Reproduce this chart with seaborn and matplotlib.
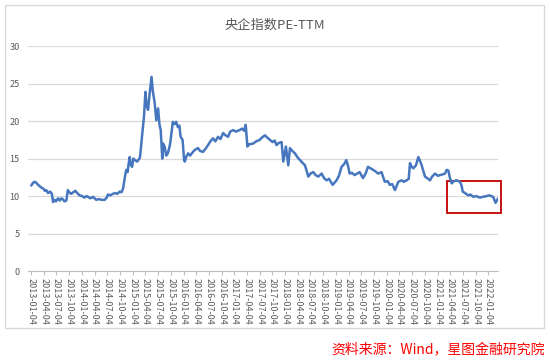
import pandas as pd
import numpy as np
import matplotlib
matplotlib.use("Agg")
import matplotlib.pyplot as plt
import matplotlib.dates as mdates
from matplotlib.patches import Rectangle
import seaborn as sns

# PE-TTM series
dates = ["2013-01-04", "2013-01-14", "2013-01-25", "2013-02-08", "2013-02-22", "2013-03-07",
         "2013-03-20", "2013-04-01", "2013-04-12", "2013-04-22", "2013-05-05", "2013-05-20",
         "2013-06-01", "2013-06-10", "2013-06-20", "2013-07-01", "2013-07-16", "2013-07-28",
         "2013-08-08", "2013-08-18", "2013-08-30", "2013-09-13", "2013-09-24", "2013-10-05",
         "2013-10-19", "2013-11-01", "2013-11-17", "2013-12-01", "2013-12-17",
         "2014-01-05", "2014-01-22", "2014-02-05", "2014-02-16", "2014-03-05", "2014-03-25",
         "2014-04-16", "2014-05-05", "2014-05-25", "2014-06-16", "2014-07-01", "2014-07-09",
         "2014-07-25", "2014-08-14", "2014-09-01", "2014-09-15", "2014-10-02", "2014-10-15",
         "2014-10-26", "2014-11-08", "2014-11-18", "2014-11-28", "2014-12-05", "2014-12-13",
         "2014-12-20", "2014-12-30",
         "2015-01-08", "2015-01-19", "2015-02-05", "2015-02-24", "2015-03-04", "2015-03-11",
         "2015-03-25", "2015-04-05", "2015-04-14", "2015-04-24", "2015-05-06", "2015-05-19",
         "2015-05-28", "2015-06-10", "2015-06-22", "2015-07-05", "2015-07-15", "2015-07-24",
         "2015-08-04", "2015-08-10", "2015-08-21", "2015-09-01", "2015-09-13", "2015-09-28",
         "2015-10-10", "2015-10-19", "2015-11-01", "2015-11-12", "2015-11-24", "2015-12-05",
         "2015-12-14", "2015-12-28",
         "2016-01-08", "2016-01-13", "2016-01-25", "2016-02-06", "2016-02-20", "2016-03-12",
         "2016-03-28", "2016-04-17", "2016-05-03", "2016-05-23", "2016-06-10", "2016-06-28",
         "2016-07-15", "2016-08-03", "2016-08-20", "2016-09-08", "2016-09-25", "2016-10-15",
         "2016-11-01", "2016-11-19", "2016-12-05", "2016-12-26",
         "2017-01-15", "2017-02-10", "2017-03-01", "2017-03-15", "2017-03-26", "2017-04-07",
         "2017-04-20", "2017-05-18", "2017-06-10", "2017-07-05", "2017-07-20", "2017-08-11",
         "2017-08-28", "2017-09-16", "2017-10-05", "2017-10-20", "2017-11-03", "2017-11-20",
         "2017-12-09", "2017-12-21",
         "2018-01-09", "2018-01-26", "2018-02-07", "2018-02-25", "2018-03-15", "2018-04-01",
         "2018-04-20", "2018-05-05", "2018-05-26", "2018-06-19", "2018-07-05", "2018-07-25",
         "2018-08-10", "2018-08-30", "2018-09-23", "2018-10-10", "2018-10-29", "2018-11-15",
         "2018-12-11",
         "2019-01-08", "2019-01-25", "2019-02-13", "2019-03-05", "2019-03-19", "2019-04-01",
         "2019-04-12", "2019-04-28", "2019-05-18", "2019-06-05", "2019-06-23", "2019-07-17",
         "2019-08-05", "2019-08-22", "2019-09-10", "2019-09-27", "2019-10-15", "2019-11-03",
         "2019-11-27", "2019-12-10", "2019-12-21",
         "2020-01-10", "2020-01-26", "2020-02-12", "2020-03-03", "2020-03-27", "2020-04-20",
         "2020-05-05", "2020-05-26", "2020-06-10", "2020-06-19", "2020-07-01", "2020-07-13",
         "2020-08-01", "2020-08-18", "2020-08-28", "2020-09-11", "2020-09-25", "2020-10-05",
         "2020-10-20", "2020-11-10", "2020-11-25", "2020-12-16",
         "2021-01-05", "2021-01-21", "2021-02-10", "2021-02-26", "2021-03-10", "2021-03-22",
         "2021-04-01", "2021-04-15", "2021-05-01", "2021-05-21", "2021-06-14", "2021-06-25",
         "2021-07-03", "2021-07-20", "2021-08-12", "2021-08-28", "2021-09-17", "2021-10-08",
         "2021-11-04", "2021-11-25", "2021-12-22",
         "2022-01-10", "2022-02-07", "2022-02-24", "2022-03-15"]
pe = [11.4, 11.7, 11.9, 11.8, 11.5, 11.3,
      11.1, 11.0, 10.7, 10.8, 10.4, 10.6,
      10.3, 9.2, 9.5, 9.3, 9.7, 9.4,
      9.7, 9.6, 9.3, 9.4, 10.8, 10.5,
      10.3, 10.5, 10.7, 10.4, 10.1,
      10.0, 9.8, 10.0, 9.9, 9.7, 9.9,
      9.5, 9.6, 9.5, 9.5, 9.8, 10.2,
      10.1, 10.3, 10.4, 10.3, 10.6, 10.5,
      11.0, 12.5, 13.5, 13.2, 14.3, 15.2,
      14.2, 13.9,
      15.0, 14.8, 14.6, 15.1, 16.5, 17.9,
      20.5, 23.9, 22.0, 21.5, 23.8, 25.9,
      24.0, 22.5, 20.1, 21.7, 19.5, 18.8,
      15.0, 17.0, 16.6, 15.4, 15.7, 16.8,
      18.5, 19.9, 19.6, 19.9, 19.2, 19.4,
      17.9, 17.5,
      14.8, 14.6, 15.3, 15.7, 15.4, 15.9,
      16.2, 16.4, 16.0, 15.9, 16.3, 16.8,
      17.3, 17.7, 17.3, 17.9, 17.6, 18.4,
      18.1, 17.9, 18.6, 18.8,
      18.6, 18.8, 19.0, 18.7, 19.5, 16.6,
      16.9, 17.0, 17.3, 17.5, 17.8, 18.1,
      17.8, 17.5, 17.2, 17.4, 16.8, 17.1,
      17.2, 14.6,
      16.6, 14.1, 16.4, 16.0, 15.7, 15.2,
      14.8, 14.5, 14.1, 12.6, 13.0, 13.2,
      12.8, 12.6, 13.0, 12.4, 12.1, 12.3,
      11.5,
      12.1, 12.7, 13.9, 14.3, 14.8, 14.0,
      13.0, 13.1, 12.8, 13.0, 13.2, 12.4,
      13.0, 13.9, 13.7, 13.5, 13.3, 13.0,
      13.2, 12.5, 11.9,
      12.0, 11.5, 11.6, 10.8, 11.9, 12.1,
      11.9, 12.1, 12.3, 14.4, 13.9, 13.7,
      14.1, 15.2, 14.8, 14.1, 13.2, 12.6,
      12.4, 12.1, 12.6, 13.0,
      12.7, 12.8, 12.9, 13.0, 13.5, 13.4,
      12.5, 11.7, 12.0, 12.1, 11.9, 11.4,
      10.6, 10.4, 10.1, 10.2, 9.9, 10.0,
      9.8, 9.9, 10.0,
      10.1, 9.9, 9.1, 9.7]

tick_dates = pd.date_range("2013-01-01", "2022-01-01", freq="QS") + pd.Timedelta(days=3)
tick_labels = [d.strftime("%Y-%m-%d") for d in tick_dates]
y_ticks = [0, 5, 10, 15, 20, 25, 30]

df = pd.DataFrame({"date": pd.to_datetime(dates), "pe": pe})

sns.set_style("white")
plt.rcParams["font.family"] = ["Noto Sans CJK SC", "DejaVu Sans"]

fig = plt.figure(figsize=(5.5, 3.6), dpi=100)
ax = fig.add_axes([0.051, 0.247, 0.855, 0.625])

# outer light frame like the Excel chart area
fig.patches.append(Rectangle((0.009, 0.089), 0.98, 0.897, transform=fig.transFigure,
                             fill=False, edgecolor="#d9d9d9", linewidth=1.0))

sns.lineplot(data=df, x="date", y="pe", ax=ax, color="#4677be", linewidth=1.8)

ax.set_ylim(0, 30)
ax.set_xlim(pd.Timestamp("2012-12-12"), pd.Timestamp("2022-03-16"))
ax.set_yticks(y_ticks)
ax.set_yticklabels([str(v) for v in y_ticks], fontsize=6.5, color="#595959")
ax.set_xticks(tick_dates)
ax.set_xticklabels(tick_labels, rotation=270, fontsize=6.5, color="#595959")
ax.set_xlabel("")
ax.set_ylabel("")
ax.grid(axis="y", color="#d9d9d9", linewidth=0.9)
ax.set_axisbelow(True)
for s in ["left", "right", "top"]:
    ax.spines[s].set_visible(False)
ax.spines["bottom"].set_color("#bfbfbf")
ax.tick_params(axis="x", length=3, color="#bfbfbf", pad=2, direction="out", bottom=True)
ax.tick_params(axis="y", length=0, pad=6)

# red highlight box over the latest period
box_start = mdates.date2num(pd.Timestamp("2021-03-10"))
box_end = mdates.date2num(pd.Timestamp("2022-04-01"))
ax.add_patch(Rectangle((box_start, 7.75), box_end - box_start, 4.25, fill=False,
                       edgecolor="#c00000", linewidth=1.3, clip_on=False))

fig.text(0.5, 0.93, "央企指数PE-TTM", ha="center", va="center", fontsize=9.5, color="#595959")
fig.text(0.99, 0.028, "资料来源：Wind，星图金融研究院", ha="right", va="center",
         fontsize=10, color="#ff0000")

fig.savefig("out.png", dpi=100)
